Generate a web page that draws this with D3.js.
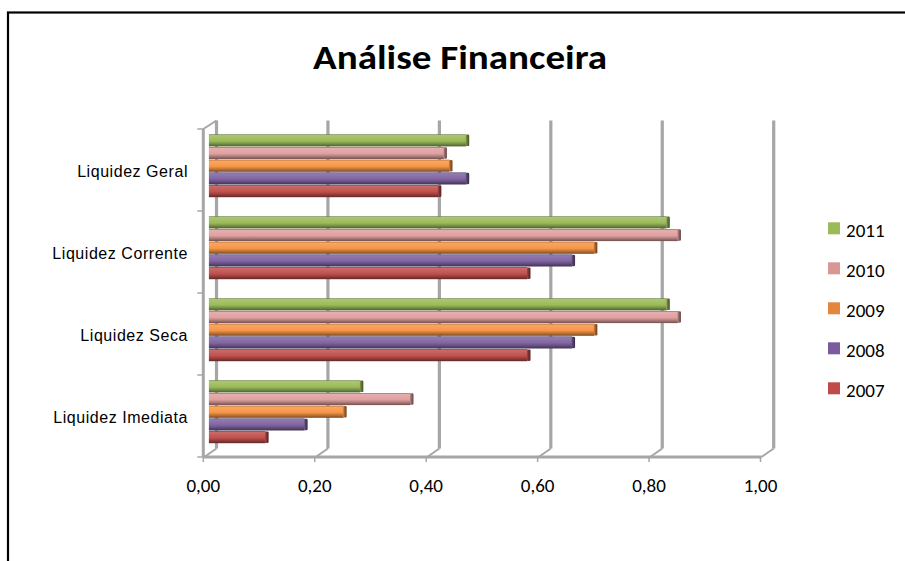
<!DOCTYPE html>
<html>
<head>
<meta charset="utf-8">
<script src="https://cdn.jsdelivr.net/npm/d3@7"></script>
<style>
  html, body { margin: 0; padding: 0; background: #fff; }
  svg { display: block; }
</style>
</head>
<body>
<svg id="chart" width="905" height="561"></svg>
<script>
// Indicator names (vertical axis) and years (series)
const categories = ["Liquidez Geral", "Liquidez Corrente", "Liquidez Seca", "Liquidez Imediata"];
const years = ["2011", "2010", "2009", "2008", "2007"];

// Ratio per indicator, same order as categories
const values2011 = [0.46, 0.82, 0.82, 0.27];
const values2010 = [0.42, 0.84, 0.84, 0.36];
const values2009 = [0.43, 0.69, 0.69, 0.24];
const values2008 = [0.46, 0.65, 0.65, 0.17];
const values2007 = [0.41, 0.57, 0.57, 0.10];

const xTickValues = [0, 0.2, 0.4, 0.6, 0.8, 1.0];
const xTickLabels = ["0,00", "0,20", "0,40", "0,60", "0,80", "1,00"];

const seriesValues = {
  "2011": values2011, "2010": values2010, "2009": values2009,
  "2008": values2008, "2007": values2007
};
const barColors = {
  "2011": "#9bbb59", "2010": "#e0a09f", "2009": "#f79646",
  "2008": "#8064a2", "2007": "#c0504d"
};
const legendColors = {
  "2011": "#9bbb59", "2010": "#d99694", "2009": "#e3873d",
  "2008": "#7a5c9e", "2007": "#be4b48"
};

const svg = d3.select("#chart");

// Chart frame
svg.append("rect")
  .attr("x", 8).attr("y", 12.5).attr("width", 1000).attr("height", 1000)
  .attr("fill", "#fff").attr("stroke", "#000").attr("stroke-width", 2.2);

// Title
svg.append("text")
  .attr("x", 460).attr("y", 69)
  .attr("text-anchor", "middle")
  .attr("font-family", "Carlito, 'Open Sans', sans-serif")
  .attr("font-weight", "bold")
  .attr("font-size", 35)
  .attr("textLength", 294)
  .attr("lengthAdjust", "spacingAndGlyphs")
  .attr("fill", "#000")
  .text("Análise Financeira");

// Scales on the front plane; depth offset gives the back wall
const x = d3.scaleLinear().domain([0, 1]).range([203.3, 760.5]);
const y = d3.scaleBand().domain(categories).range([129, 457]).padding(0);
const depth = { dx: 13.2, dy: -8.5 };
const yInner = d3.scaleBand().domain(years).range([9.25, 72.75]).padding(0);

const gridColor = "#a6a6a6";
const g = svg.append("g");

// Back wall gridlines
g.selectAll("line.grid").data(xTickValues).join("line")
  .attr("class", "grid")
  .attr("x1", d => x(d) + depth.dx).attr("x2", d => x(d) + depth.dx)
  .attr("y1", y.range()[0] + depth.dy).attr("y2", y.range()[1] + depth.dy)
  .attr("stroke", gridColor).attr("stroke-width", 3.2);

// Floor edges from front ticks to back wall
g.selectAll("line.floor").data(xTickValues).join("line")
  .attr("class", "floor")
  .attr("x1", d => x(d) + 1).attr("x2", d => x(d) + depth.dx)
  .attr("y1", y.range()[1]).attr("y2", y.range()[1] + depth.dy)
  .attr("stroke", gridColor).attr("stroke-width", 2);

// Top edge of the side wall
g.append("line")
  .attr("x1", x(0)).attr("y1", y.range()[0])
  .attr("x2", x(0) + depth.dx).attr("y2", y.range()[0] + depth.dy)
  .attr("stroke", gridColor).attr("stroke-width", 2);

// Front axes
g.append("line")
  .attr("x1", x(0)).attr("x2", x(1) + 1)
  .attr("y1", y.range()[1]).attr("y2", y.range()[1])
  .attr("stroke", gridColor).attr("stroke-width", 3);
g.append("line")
  .attr("x1", x(0)).attr("x2", x(0))
  .attr("y1", y.range()[0]).attr("y2", y.range()[1])
  .attr("stroke", gridColor).attr("stroke-width", 3);

// Tick marks
g.selectAll("line.xtick").data(xTickValues).join("line")
  .attr("class", "xtick")
  .attr("x1", d => x(d)).attr("x2", d => x(d))
  .attr("y1", y.range()[1]).attr("y2", y.range()[1] + 5)
  .attr("stroke", gridColor).attr("stroke-width", 1.5);
const catBounds = categories.map(c => y(c)).concat([y.range()[1]]);
g.selectAll("line.ytick").data(catBounds).join("line")
  .attr("class", "ytick")
  .attr("x1", x(0) - 6).attr("x2", x(0))
  .attr("y1", d => d).attr("y2", d => d)
  .attr("stroke", gridColor).attr("stroke-width", 1.5);

// Gradients giving the bars a rounded 3D look
const defs = svg.append("defs");
function mix(c, t, amt) { return d3.interpolateRgb(c, t)(amt); }
years.forEach(yr => {
  const base = barColors[yr];
  const grad = defs.append("linearGradient")
    .attr("id", "bar" + yr).attr("x1", 0).attr("y1", 0).attr("x2", 0).attr("y2", 1);
  [[0, mix(base, "#000", 0.35)], [0.1, mix(base, "#fff", 0.15)], [0.32, mix(base, "#fff", 0.08)],
   [0.55, base], [0.75, mix(base, "#000", 0.2)], [1, mix(base, "#000", 0.5)]]
    .forEach(([o, c]) => grad.append("stop").attr("offset", o).attr("stop-color", c));
  const cap = defs.append("linearGradient")
    .attr("id", "cap" + yr).attr("x1", 0).attr("y1", 0).attr("x2", 1).attr("y2", 0);
  [[0, mix(base, "#000", 0.15)], [0.5, mix(base, "#000", 0.4)], [1, mix(base, "#000", 0.55)]]
    .forEach(([o, c]) => cap.append("stop").attr("offset", o).attr("stop-color", c));
});

// Bars sit at mid depth
const barData = [];
categories.forEach((c, i) => {
  years.forEach(yr => barData.push({ cat: c, year: yr, value: seriesValues[yr][i] }));
});
const mx = v => x(v) + depth.dx / 2;
const my = (c, yr) => y(c) + depth.dy / 2 + yInner(yr);
const bh = yInner.bandwidth();

const bars = g.selectAll("g.bar").data(barData).join("g").attr("class", "bar");
bars.append("rect")
  .attr("x", mx(0) - 1)
  .attr("y", d => my(d.cat, d.year) + 0.3)
  .attr("width", d => mx(d.value) - mx(0) + 1)
  .attr("height", bh - 0.6)
  .attr("fill", d => `url(#bar${d.year})`);
bars.append("rect")
  .attr("x", d => mx(d.value) - 0.5)
  .attr("y", d => my(d.cat, d.year) + 0.6)
  .attr("width", 3.5)
  .attr("height", bh - 1.2)
  .attr("rx", 1.2)
  .attr("fill", d => `url(#cap${d.year})`);

// Category labels
svg.selectAll("text.cat").data(categories).join("text")
  .attr("class", "cat")
  .attr("x", 188)
  .attr("y", d => y(d) + y.bandwidth() / 2 + 7)
  .attr("text-anchor", "end")
  .attr("font-family", "'Liberation Sans', Arial, sans-serif")
  .attr("font-size", 16)
  .attr("letter-spacing", 0.55)
  .attr("fill", "#000")
  .text(d => d);

// Value axis labels
svg.selectAll("text.xlab").data(xTickValues).join("text")
  .attr("class", "xlab")
  .attr("x", d => x(d))
  .attr("y", 492)
  .attr("text-anchor", "middle")
  .attr("font-family", "Carlito, 'Open Sans', sans-serif")
  .attr("font-size", 19)
  .attr("fill", "#000")
  .text((d, i) => xTickLabels[i]);

// Legend
const legend = svg.append("g").attr("transform", "translate(828,222.3)");
const li = legend.selectAll("g").data(years).join("g")
  .attr("transform", (d, i) => `translate(0,${i * 40})`);
li.append("rect").attr("width", 12).attr("height", 12)
  .attr("fill", d => legendColors[d]);
li.append("text")
  .attr("x", 18).attr("y", 14.5)
  .attr("font-family", "Carlito, 'Open Sans', sans-serif")
  .attr("font-size", 19)
  .attr("fill", "#000")
  .text(d => d);
</script>
</body>
</html>
